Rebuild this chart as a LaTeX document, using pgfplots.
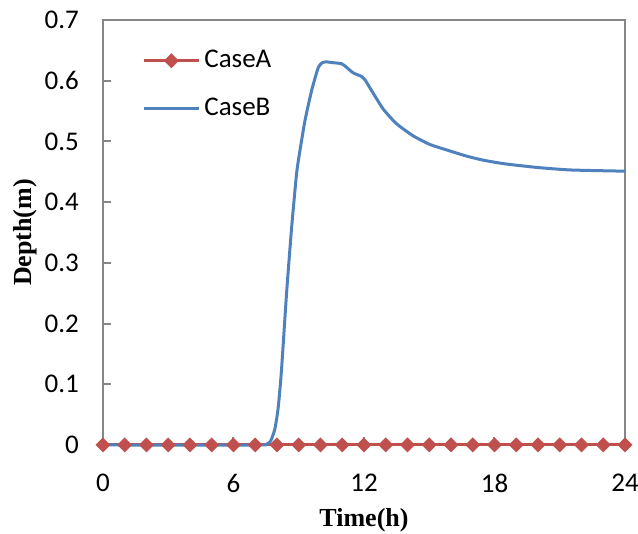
\documentclass[border=0pt]{standalone}
\usepackage{fontspec}
\usepackage{pgfplots}
\pgfplotsset{compat=1.18}
\newfontfamily\carlito{Carlito}
\newfontfamily\lserif{Liberation Serif}
\definecolor{caseA}{HTML}{C0504D}
\definecolor{caseB}{HTML}{4F81BD}
\definecolor{axisgray}{HTML}{868686}

\begin{document}
\begin{tikzpicture}
\begin{axis}[
  width=261pt, height=212.5pt, scale only axis,
  xmin=0, xmax=24, ymin=0, ymax=0.7,
  xtick={0,6,12,18,24},
  ytick={0,0.1,0.2,0.3,0.4,0.5,0.6,0.7},
  yticklabels={0,0.1,0.2,0.3,0.4,0.5,0.6,0.7},
  tick align=inside, xtick pos=lower, ytick pos=left,
  major tick length=4pt,
  tick style={axisgray, line width=1pt},
  axis line style={axisgray, line width=1pt},
  /pgf/number format/assume math mode=true,
  ticklabel style={font=\carlito\fontsize{13.5}{16}\selectfont, text=black},
  xticklabel shift=11pt,
  yticklabel shift=8.5pt,
  xlabel={Time(h)}, ylabel={Depth(m)},
  label style={font=\lserif\bfseries\fontsize{13}{15}\selectfont},
  xlabel style={at={(axis description cs:0.5,-0.1765)}, anchor=center},
  ylabel style={at={(axis description cs:-0.1494,0.5)}, anchor=center},
  clip=false,
  legend cell align=left,
  legend style={at={(axis description cs:0,1)}, anchor=north west,
    xshift=19.5pt, yshift=-13pt, draw=none, fill=none,
    font=\carlito\fontsize{13.5}{16}\selectfont, row sep=9.5pt,
    inner sep=0pt, nodes={inner xsep=2pt}},
  legend image code/.code={%
    \draw[mark repeat=2, mark phase=2] plot coordinates {(0pt,0pt) (13.75pt,0pt) (27.5pt,0pt)};},
]
\coordinate (SW) at (rel axis cs:0,0);

% Case A: dry throughout, sampled hourly
\addplot[color=caseA, line width=1.5pt, mark=square*, mark size=1.9pt,
  mark options={rotate=45, solid, fill=caseA}] coordinates {
  (0,0) (1,0) (2,0) (3,0) (4,0) (5,0) (6,0) (7,0) (8,0) (9,0) (10,0) (11,0) (12,0)
  (13,0) (14,0) (15,0) (16,0) (17,0) (18,0) (19,0) (20,0) (21,0) (22,0) (23,0) (24,0)};
\addlegendentry{CaseA}

% Case B: flooding wave
\addplot[color=caseB, line width=1.5pt, smooth, tension=0.35] coordinates {
  (0,0) (7.0,0) (7.5,0.001) (7.7,0.006) (7.9,0.026) (8.05,0.06) (8.2,0.12)
  (8.44,0.25) (8.67,0.357) (8.9,0.447) (9.06,0.486) (9.29,0.535) (9.6,0.585)
  (9.9,0.622) (10.1,0.630) (10.3,0.631) (10.5,0.630) (10.97,0.628) (11.2,0.622)
  (11.5,0.613) (11.89,0.607) (12.04,0.602) (12.43,0.579) (12.89,0.553)
  (13.5,0.529) (14.27,0.509) (15.03,0.495) (15.8,0.486) (16.7,0.476)
  (17.5,0.469) (18.5,0.463) (20.0,0.457) (21.5,0.453) (24,0.451)};
\addlegendentry{CaseB}
\end{axis}
\pgfresetboundingbox
\path (SW) ++(-51.5pt,-44.5pt) rectangle ++(319pt,267pt);
\end{tikzpicture}
\end{document}
